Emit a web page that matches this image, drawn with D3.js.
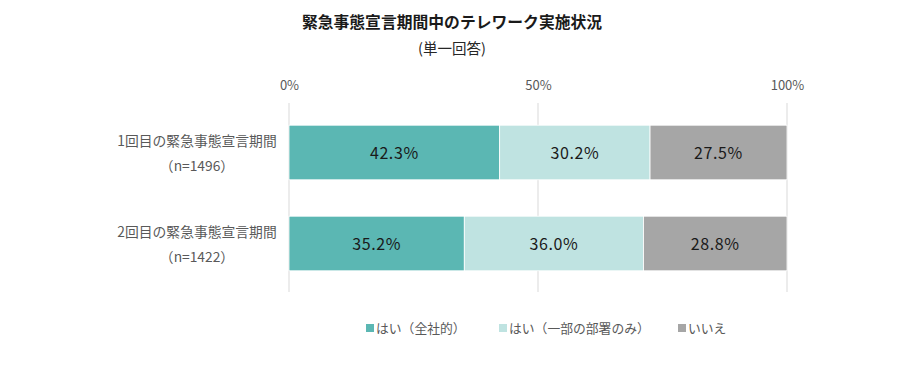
<!DOCTYPE html>
<html><head><meta charset="utf-8">
<script src="https://cdn.jsdelivr.net/npm/d3@7"></script>
<style>
body{margin:0;background:#fff;}
text{font-family:"Noto Sans CJK JP","Noto Sans",sans-serif;}
</style></head>
<body><svg id="c" width="904" height="383"></svg>
<script>
const title = "緊急事態宣言期間中のテレワーク実施状況";
const subtitle = "(単一回答)";
const categories = ["1回目の緊急事態宣言期間", "2回目の緊急事態宣言期間"];
const sampleSizes = ["（n=1496）", "（n=1422）"];
const seriesNames = ["はい（全社的）", "はい（一部の部署のみ）", "いいえ"];
const seriesColors = ["#5BB7B3", "#BFE3E1", "#A6A6A6"];
const allCompany = [42.3, 35.2];
const someDepts = [30.2, 36.0];
const noValues = [27.5, 28.8];
const tickValues = [0, 50, 100];

const svg = d3.select("#c");
const x = d3.scaleLinear().domain([0, 100]).range([289, 787]);
const y = d3.scaleBand().domain(categories).range([107, 289]).paddingInner(0.4).paddingOuter(0.2);

svg.append("text").attr("x", 452).attr("y", 28).attr("text-anchor", "middle")
  .attr("font-size", 15.8).attr("font-weight", "bold").attr("fill", "#1a1a1a").text(title);
svg.append("text").attr("x", 452).attr("y", 54).attr("text-anchor", "middle")
  .attr("font-size", 14.5).attr("fill", "#262626").text(subtitle);

// gridlines
svg.append("g").selectAll("line").data(tickValues).join("line")
  .attr("x1", d => x(d)).attr("x2", d => x(d)).attr("y1", 103).attr("y2", 292)
  .attr("stroke", "#D9D9D9").attr("stroke-width", 1);

// top axis
const axis = d3.axisTop(x).tickValues(tickValues).tickFormat(d => d + "%").tickSize(0);
const ag = svg.append("g").attr("transform", "translate(0,93)").call(axis);
ag.select(".domain").remove();
ag.selectAll("text").attr("font-size", 13).attr("fill", "#595959")
  .style("font-family", "\"Noto Sans CJK JP\",sans-serif");

const series = [allCompany, someDepts, noValues];
const rows = categories.map((c, i) => {
  let acc = 0;
  return series.map((s, j) => { const v = s[i]; const r = {cat: c, j, v, x0: acc, x1: acc + v}; acc += v; return r; });
});

rows.forEach(row => {
  const g = svg.append("g");
  g.selectAll("rect").data(row).join("rect")
    .attr("x", d => x(d.x0)).attr("width", d => x(Math.min(d.x1, 100)) - x(d.x0))
    .attr("y", d => y(d.cat)).attr("height", y.bandwidth())
    .attr("fill", d => seriesColors[d.j]).attr("stroke", "#fff").attr("stroke-width", 0.8);
  g.selectAll("text").data(row).join("text")
    .attr("x", d => (x(d.x0) + x(Math.min(d.x1, 100))) / 2)
    .attr("y", d => y(d.cat) + y.bandwidth() / 2 + 6)
    .attr("text-anchor", "middle").attr("font-size", 16).attr("letter-spacing", 0.6).attr("fill", "#1a1a1a")
    .text(d => d.v.toFixed(1) + "%");
});

// category labels
categories.forEach((c, i) => {
  const cy = y(c) + y.bandwidth() / 2;
  svg.append("text").attr("x", 197).attr("y", cy - 7).attr("text-anchor", "middle")
    .attr("font-size", 13.8).attr("fill", "#595959").text(c);
  svg.append("text").attr("x", 197).attr("y", cy + 18).attr("text-anchor", "middle")
    .attr("font-size", 13.8).attr("fill", "#595959").text(sampleSizes[i]);
});

// legend
const legendX = [366, 499, 678];
const lg = svg.append("g").selectAll("g").data(seriesNames).join("g")
  .attr("transform", (d, i) => `translate(${legendX[i]},323)`);
lg.append("rect").attr("width", 8).attr("height", 8).attr("y", 1).attr("fill", (d, i) => seriesColors[i]);
lg.append("text").attr("x", 10).attr("y", 10).attr("font-size", 12.8).attr("fill", "#595959").text(d => d);
</script></body></html>
